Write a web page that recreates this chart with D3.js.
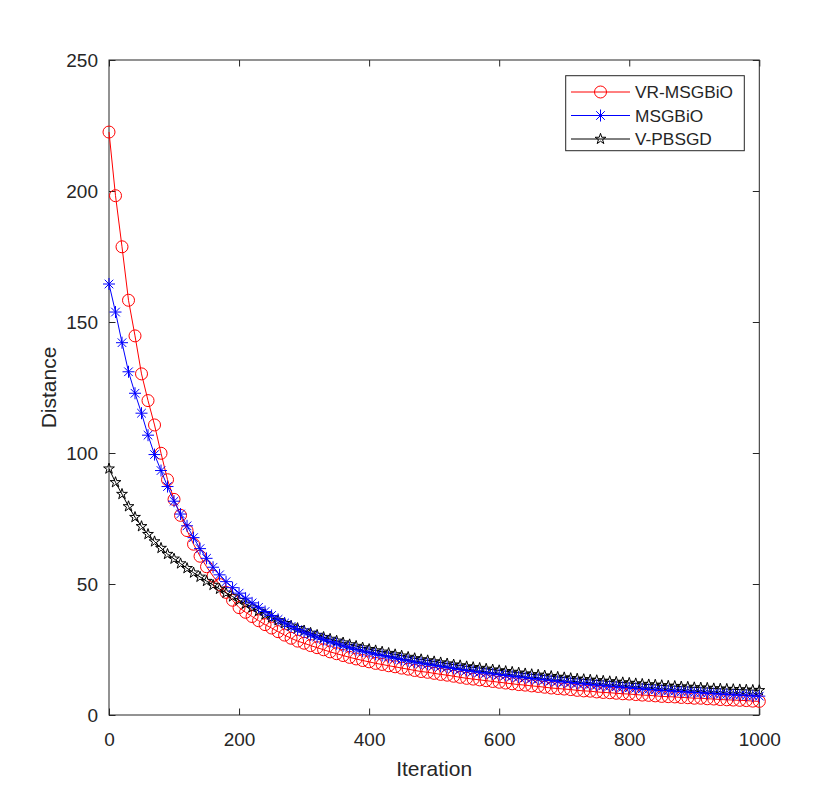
<!DOCTYPE html>
<html>
<head>
<meta charset="utf-8">
<script src="https://cdn.jsdelivr.net/npm/d3@7"></script>
<style>
  body { margin: 0; background: #fff; }
  text { font-family: "Liberation Sans", Arial, Helvetica, sans-serif; fill: #262626; }
</style>
</head>
<body>
<script>
    var width = 840, height = 804;

    // iteration grid, one marker every 10 iterations
    var iterations = d3.range(0, 1001, 10);

    var vrMsgbio = [222.5, 198.2, 178.7, 158.3, 144.7, 130.2, 120.0, 110.7, 99.9, 89.8,
        82.3, 76.2, 70.4, 65.2, 60.6, 56.6, 53.0, 49.8, 46.8, 43.8,
        41.0, 39.2, 37.6, 36.0, 34.5, 33.2, 31.8, 30.5, 29.3, 28.2,
        27.4, 26.5, 25.7, 24.9, 24.1, 23.4, 22.7, 22.0, 21.4, 20.8,
        20.3, 19.7, 19.3, 18.8, 18.4, 17.9, 17.5, 17.0, 16.6, 16.3,
        15.9, 15.5, 15.2, 14.8, 14.4, 14.0, 13.7, 13.4, 13.1, 12.8,
        12.5, 12.2, 11.9, 11.6, 11.4, 11.1, 10.9, 10.6, 10.3, 10.1,
        9.9, 9.7, 9.4, 9.2, 9.1, 8.8, 8.6, 8.5, 8.3, 8.1,
        8.0, 7.8, 7.6, 7.5, 7.3, 7.1, 7.0, 6.9, 6.7, 6.6,
        6.4, 6.4, 6.2, 6.1, 5.9, 5.8, 5.7, 5.6, 5.5, 5.3,
        5.2];

    var msgbio = [164.5, 153.8, 142.1, 131.0, 122.8, 115.2, 106.8, 99.4, 93.3, 87.2,
        81.6, 76.7, 72.2, 67.7, 63.5, 59.8, 56.4, 53.5, 50.9, 48.6,
        46.5, 44.6, 42.8, 41.1, 39.5, 38.0, 36.5, 35.1, 33.8, 32.6,
        31.6, 30.6, 29.7, 28.8, 28.0, 27.2, 26.4, 25.7, 25.0, 24.4,
        23.8, 23.2, 22.7, 22.2, 21.7, 21.2, 20.7, 20.2, 19.8, 19.4,
        19.0, 18.6, 18.2, 17.8, 17.4, 17.0, 16.7, 16.3, 16.0, 15.7,
        15.4, 15.1, 14.8, 14.5, 14.2, 13.9, 13.7, 13.4, 13.1, 12.9,
        12.6, 12.4, 12.1, 11.9, 11.7, 11.4, 11.2, 11.0, 10.8, 10.6,
        10.4, 10.2, 10.0, 9.8, 9.6, 9.4, 9.3, 9.1, 8.9, 8.8,
        8.6, 8.5, 8.3, 8.2, 8.0, 7.9, 7.7, 7.6, 7.5, 7.3,
        7.2];

    var vPbsgd = [94.0, 88.8, 84.3, 79.6, 75.5, 72.0, 69.0, 66.2, 63.7, 61.4,
        59.6, 57.8, 56.0, 54.3, 52.7, 51.1, 49.6, 48.1, 46.6, 45.2,
        43.8, 42.4, 41.0, 39.7, 38.4, 37.2, 36.1, 35.0, 34.0, 33.1,
        32.2, 31.3, 30.5, 29.7, 29.0, 28.3, 27.6, 26.9, 26.3, 25.7,
        25.1, 24.6, 24.1, 23.6, 23.1, 22.6, 22.1, 21.6, 21.2, 20.8,
        20.4, 20.0, 19.6, 19.2, 18.9, 18.5, 18.2, 17.9, 17.6, 17.3,
        17.0, 16.7, 16.4, 16.1, 15.8, 15.5, 15.3, 15.0, 14.8, 14.5,
        14.3, 14.0, 13.8, 13.6, 13.4, 13.2, 13.0, 12.8, 12.6, 12.4,
        12.2, 12.0, 11.8, 11.6, 11.5, 11.3, 11.1, 11.0, 10.8, 10.7,
        10.5, 10.4, 10.3, 10.1, 10.0, 9.9, 9.8, 9.7, 9.6, 9.5,
        9.4];

    var seriesNames = ["VR-MSGBiO", "MSGBiO", "V-PBSGD"];
    var xTicks = [0, 200, 400, 600, 800, 1000];
    var yTicks = [0, 50, 100, 150, 200, 250];

    var axisColor = "#262626";
    var plotL = 109, plotR = 759.3, plotT = 60, plotB = 715;

    var svg = d3.select("body").append("svg")
        .attr("width", width).attr("height", height);

    var x = d3.scaleLinear().domain([0, 1000]).range([plotL, plotR]);
    var y = d3.scaleLinear().domain([0, 250]).range([plotB, plotT]);

    // axes, ticks pointing inside like matlab
    function styleAxis(g) {
        g.select(".domain").remove();
        g.selectAll(".tick line").attr("stroke", axisColor);
        g.selectAll(".tick text").style("font-size", "19px").attr("fill", axisColor);
    }

    svg.append("g").attr("transform", "translate(0," + plotB + ")")
        .call(d3.axisBottom(x).tickValues(xTicks).tickFormat(d3.format("d"))
            .tickSizeInner(-6.5).tickSizeOuter(0).tickPadding(18))
        .call(styleAxis);
    svg.append("g").attr("transform", "translate(" + plotL + ",0)")
        .call(d3.axisLeft(y).tickValues(yTicks).tickFormat(d3.format("d"))
            .tickSizeInner(-6.5).tickSizeOuter(0).tickPadding(11))
        .call(styleAxis);
    svg.append("g").attr("transform", "translate(0," + plotT + ")")
        .call(d3.axisTop(x).tickValues(xTicks).tickSizeInner(-6.5).tickSizeOuter(0).tickFormat(""))
        .call(styleAxis);
    svg.append("g").attr("transform", "translate(" + plotR + ",0)")
        .call(d3.axisRight(y).tickValues(yTicks).tickSizeInner(-6.5).tickSizeOuter(0).tickFormat(""))
        .call(styleAxis);

    svg.append("rect")
        .attr("x", plotL).attr("y", plotT)
        .attr("width", plotR - plotL).attr("height", plotB - plotT)
        .attr("fill", "none").attr("stroke", axisColor).attr("stroke-width", 1);

    // axis titles
    svg.append("text")
        .attr("x", (plotL + plotR) / 2).attr("y", 776)
        .attr("text-anchor", "middle")
        .style("font-size", "21px")
        .text("Iteration");
    svg.append("text")
        .attr("transform", "translate(56," + ((plotT + plotB) / 2) + ") rotate(-90)")
        .attr("text-anchor", "middle")
        .style("font-size", "21px")
        .text("Distance");

    // marker shapes
    var starPath = d3.symbol().type(d3.symbolStar).size(36)();
    var asteriskPath = "M0,-6L0,6M-6,0L6,0M-4.3,-4.3L4.3,4.3M-4.3,4.3L4.3,-4.3";

    var series = [
        {name: seriesNames[0], values: vrMsgbio, color: "#ff0000", marker: "circle"},
        {name: seriesNames[2], values: vPbsgd, color: "#000000", marker: "star"},
        {name: seriesNames[1], values: msgbio, color: "#0000ff", marker: "asterisk"}
    ];

    function drawMarker(g, type, color) {
        if (type === "circle") {
            g.append("circle").attr("r", 6)
                .attr("fill", "none").attr("stroke", color).attr("stroke-width", 1);
        } else if (type === "star") {
            g.append("path").attr("d", starPath)
                .attr("fill", "none").attr("stroke", color).attr("stroke-width", 1);
        } else {
            g.append("path").attr("d", asteriskPath)
                .attr("fill", "none").attr("stroke", color).attr("stroke-width", 1);
        }
    }

    var line = d3.line()
        .x(function(d, i) { return x(iterations[i]); })
        .y(function(d) { return y(d); });

    series.forEach(function(s) {
        var g = svg.append("g");
        g.append("path").datum(s.values)
            .attr("d", line)
            .attr("fill", "none").attr("stroke", s.color).attr("stroke-width", 1);
        g.selectAll("g.pt").data(s.values).enter().append("g")
            .attr("class", "pt")
            .attr("transform", function(d, i) { return "translate(" + x(iterations[i]) + "," + y(d) + ")"; })
            .each(function() { drawMarker(d3.select(this), s.marker, s.color); });
    });

    // legend
    var legendItems = [
        {name: seriesNames[0], color: "#ff0000", marker: "circle"},
        {name: seriesNames[1], color: "#0000ff", marker: "asterisk"},
        {name: seriesNames[2], color: "#000000", marker: "star"}
    ];
    var legend = svg.append("g");
    legend.append("rect")
        .attr("x", 565.7).attr("y", 75.7).attr("width", 178.6).attr("height", 75)
        .attr("fill", "#fff").attr("stroke", axisColor).attr("stroke-width", 1);
    var rowY = [92, 115.5, 139];
    legendItems.forEach(function(item, i) {
        var row = legend.append("g").attr("transform", "translate(0," + rowY[i] + ")");
        row.append("line").attr("x1", 571).attr("x2", 630)
            .attr("stroke", item.color).attr("stroke-width", 1);
        var m = row.append("g").attr("transform", "translate(600.5,0)");
        drawMarker(m, item.marker, item.color);
        row.append("text").attr("x", 635).attr("dy", "0.35em")
            .style("font-size", "17.3px").text(item.name);
    });
</script>
</body>
</html>
